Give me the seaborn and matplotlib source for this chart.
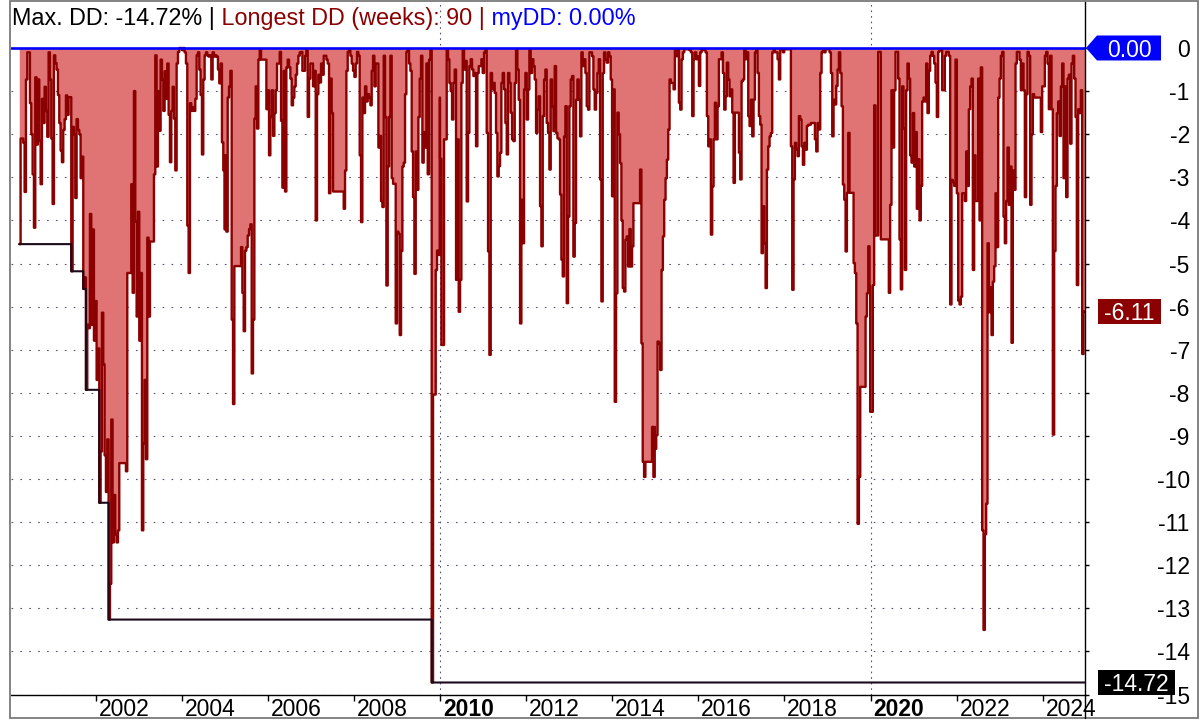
import numpy as np
import pandas as pd
import matplotlib
matplotlib.use("Agg")
import matplotlib.pyplot as plt
import matplotlib.transforms as mtransforms
from matplotlib.patches import Polygon, Rectangle
from matplotlib.lines import Line2D
import seaborn as sns

# ---------------- data (drawdown %) ----------------
SAMPLE_YR = 4 / 129.15          # spacing between readings (about 11 days)
block_starts = [2000.227, 2005.006, 2010.0, 2014.99, 2019.99]

dd_2000 = [
    -4.55, -2.1, -2.1, -2.2, -3.34, -0.73, -0.1, -0.1, -1.28, -2.0,
    -2.93, -4.17, -0.68, -2.24, -0.73, -2.15, -3.16, -1.18, -1.74, -0.9,
    -1.46, -2.06, -0.1, -0.73, -2.1, -3.62, -0.17, -0.35, -0.5, -1.09,
    -1.74, -2.38, -2.65, -1.9, -1.65, -1.1, -1.55, -1.14, -1.14, -5.18,
    -1.83, -2.0, -3.48, -1.65, -1.9, -2.0, -3.02, -2.52, -5.59, -5.32,
    -7.93, -6.42, -6.5, -3.85, -6.42, -4.21, -6.79, -5.87, -7.7, -6.97,
    -10.55, -9.36, -6.14, -7.34, -9.45, -10.3, -9.08, -13.26, -12.43, -8.62,
    -11.47, -10.37, -11.29, -11.47, -11.19, -9.63, -9.63, -9.63, -9.63, -9.63,
    -9.82, -5.22, -5.22, -5.22, -3.16, -5.68, -1.0, -4.03, -6.23, -3.8,
    -6.79, -5.22, -11.19, -9.17, -7.7, -9.54, -4.4, -6.23, -4.49, -4.49,
    -4.49, -2.93, -0.17, -2.75, -1.0, -1.92, -0.27, -0.73, -1.46, -0.54,
    -1.18, -0.36, -1.55, -2.65, -1.46, -0.9, -1.64, -2.84, -0.36, -0.09,
    0.0, 0.0, -0.05, 0.0, -0.1, -0.36, -4.12, -5.22, -1.28, -1.46,
    -1.37, -1.46, -1.18, -0.17, -0.1, -0.5, -1.09, -2.47, -0.73, -0.17,
    -0.1, -0.17, -0.2, -0.17, -0.73, -0.1, -0.2, -0.17, -0.2, -0.5,
    -0.82, -0.36, -2.19, -2.84, -4.21,
]
dd_2005 = [
    -2.49, -4.26, -1.15, -0.89, -0.53, -6.3, -8.26, -5.06, -5.06, -5.06,
    -5.06, -5.06, -4.62, -5.68, -6.57, -4.7, -4.62, -4.35, -4.2, -4.09,
    -7.55, -6.3, -1.64, -0.89, -1.87, -0.27, -0.05, -0.27, -0.27, -0.27,
    -0.27, -1.42, -0.98, -2.49, -1.6, -0.98, -2.04, -1.51, -0.98, -0.36,
    -0.36, -0.09, -1.69, -3.24, -0.53, -3.33, -0.45, -0.27, -0.45, -0.71,
    -1.33, -1.15, -0.89, -0.62, -0.36, -0.18, -0.1, -0.09, -0.53, -0.53,
    -0.18, -0.05, -1.6, -0.71, -0.36, -0.36, -0.89, -0.53, -4.0, -1.07,
    -0.62, -0.8, -0.36, -0.62, -0.18, -0.18, -0.27, -0.36, -3.37, -0.71,
    -1.51, -3.33, -3.33, -3.33, -3.33, -3.33, -3.33, -3.33, -3.33, -3.73,
    -2.84, -0.53, -0.09, -0.05, -0.18, -0.36, -0.53, -0.67, -0.36, -0.09,
    -0.18, -2.49, -4.04, -1.15, -1.51, -0.89, -1.24, -1.07, -1.15, -1.33,
    -0.53, -0.18, -0.89, -0.36, -0.36, -2.31, -2.04, -3.55, -3.69, -0.18,
    -1.6, -5.51, -2.75, -1.6, -0.18, -3.02, -3.15, -3.15, -6.39, -4.26,
    -4.31, -6.66, -4.71, -2.75, -2.66, -1.07, -0.09, -0.05, -0.36, -0.53,
    -2.4, -3.46, -5.24, -2.4, -3.29, -1.6, -0.71, -0.18, -2.66, -1.95,
    -2.31, -0.36, -2.93, -0.27, -0.05, -14.72, -8.04, -8.04, -5.15, -4.7,
    -4.8, -1.15,
]
dd_2010 = [
    -2.57, -6.89, -6.89, -2.12, -2.12, -0.03, -0.26, -0.81, -1.0, -1.66,
    -0.81, -0.5, -5.38, -2.12, -6.12, -5.38, -0.81, -0.03, -0.5, -0.3,
    -3.56, -1.97, -0.42, -0.26, -0.5, -0.65, -0.58, -2.28, -0.58, -0.42,
    -0.42, -0.26, -0.58, -0.1, -0.03, -1.97, -4.72, -7.12, -0.58, -0.96,
    -0.81, -1.04, -1.97, -2.98, -2.74, -2.43, -0.81, -0.58, -0.96, -1.74,
    -2.47, -0.58, -0.81, -1.5, -2.12, -2.16, -0.81, -0.03, -0.5, -1.2,
    -6.39, -3.52, -4.53, -0.96, -0.58, -1.66, -0.96, -0.03, -0.58, -0.26,
    -0.42, -0.73, -1.97, -1.43, -1.12, -3.67, -4.6, -1.58, -0.73, -0.5,
    -1.74, -1.97, -2.82, -0.73, -1.35, -1.93, -0.42, -1.97, -2.09, -2.12,
    -3.4, -4.91, -5.3, -2.05, -1.35, -5.92, -3.91, -1.35, -0.73, -0.65,
    -4.84, -4.06, -1.2, -0.73, -1.2, -2.05, -0.1, -0.42, -0.26, -0.58,
    -1.35, -1.43, -0.1, -0.1, -0.19, -0.96, -1.43, -1.04, -0.58, -0.26,
    -3.05, -5.88, -0.58, -0.1, -0.26, -0.34, -0.1, -0.19, -0.73, -3.44,
    -0.96, -8.21, -5.69, -1.5, -2.0, -2.67, -4.0, -5.57, -5.65, -4.45,
    -4.37, -5.07, -4.2, -5.07, -4.6, -3.6, -3.6, -3.6, -3.6, -3.6,
    -2.82, -6.85, -9.6, -9.95, -9.6, -9.6, -9.6, -9.6, -9.6, -8.79,
    -9.95, -8.79,
]
dd_2015 = [
    -9.3, -8.98, -6.81, -6.85, -7.47, -5.15, -4.37, -3.52, -3.02, -2.59,
    -1.89, -0.73, -0.81, -0.81, -0.96, -0.03, -0.19, -0.03, -1.27, -1.43,
    -0.26, -0.1, -0.03, -0.03, -0.03, -0.03, -0.05, -0.1, -1.58, -0.26,
    -0.1, -0.26, -0.19, -0.88, -0.1, -0.03, -0.05, -0.05, -0.1, -1.58,
    -2.28, -2.12, -4.33, -3.21, -2.12, -1.27, -2.12, -1.35, -0.26, -0.26,
    -0.1, -0.58, -1.43, -1.12, -0.34, -0.73, -1.12, -0.96, -1.5, -3.13,
    -1.5, -1.5, -1.5, -2.43, -3.05, -0.77, -0.73, -0.03, -0.26, -0.1,
    -1.58, -1.81, -1.2, -2.05, -1.2, -0.1, -0.03, -0.58, -1.58, -1.78,
    -4.76, -3.67, -4.53, -5.57, -2.82, -2.28, -2.05, -1.97, -0.1, -0.03,
    -0.1, -0.1, -0.26, -0.73, -0.03, -0.03, -0.1, -0.03, -0.03, -0.03,
    -0.03, -0.03, -2.28, -5.61, -3.05, -2.2, -2.36, -2.51, -1.58, -1.66,
    -2.28, -2.71, -2.2, -2.36, -1.81, -1.78, -1.78, -1.74, -1.74, -1.74,
    -2.12, -2.4, -1.74, -1.89, -0.58, -0.1, -0.03, -0.1, -0.03, -0.03,
    -0.03, -0.1, -0.58, -2.05, -1.2, -1.31, -0.88, -0.5, -0.1, -0.58,
    -1.35, -3.17, -3.52, -4.72, -3.36, -1.97, -3.36, -3.36, -3.36, -4.99,
    -5.22, -6.39, -11.04, -9.95, -7.86, -7.86, -7.86, -7.86, -6.23, -5.69,
    -4.6, -5.53,
]
dd_2020 = [
    -8.44, -8.44, -5.5, -1.33, -4.35, -4.35, -0.09, -0.09, -4.44, -4.44,
    -4.44, -4.44, -4.44, -4.44, -5.68, -3.64, -0.98, -2.31, -0.98, -0.09,
    -0.09, -0.71, -4.44, -5.6, -0.89, -1.87, -5.15, -0.98, -0.36, -0.71,
    -2.49, -2.66, -1.51, -2.75, -1.95, -3.73, -2.58, -4.0, -3.2, -1.24,
    -1.15, -1.24, -0.36, -1.51, -0.53, -0.18, -0.09, -0.18, -0.36, -0.8,
    -1.6, -0.09, -0.05, -0.05, -0.98, -0.98, -0.18, -0.09, -0.09, -0.18,
    -5.95, -3.06, -3.11, -3.2, -0.27, -3.37, -5.86, -5.95, -5.77, -3.37,
    -3.37, -3.55, -2.4, -3.2, -1.42, -0.89, -0.71, -5.15, -2.49, -3.55,
    -3.55, -0.71, -4.0, -0.45, -11.19, -13.5, -11.28, -10.57, -4.53, -6.13,
    -5.55, -6.66, -5.42, -5.06, -3.37, -4.62, -1.15, -0.71, -0.18, -0.09,
    -3.91, -4.53, -3.55, -2.31, -3.64, -2.75, -6.84, -2.84, -3.29, -0.36,
    -0.09, -0.09, -0.27, -0.98, -0.36, -0.98, -3.46, -1.07, -0.09, -0.18,
    -3.64, -2.0, -1.07, -1.15, -1.15, -1.15, -1.15, -1.15, -1.95, -0.89,
    -0.89, -0.18, -0.09, -0.36, -1.42, -0.18, -1.42, -8.97, -4.71, -3.2,
    -1.51, -1.24, -2.04, -0.89, -0.36, -3.02, -0.89, -3.46, -0.71, -0.62,
    -2.22, -0.36, -0.18, -0.71, -1.6, -5.5, -1.42, -1.51, -0.98, -7.1,
    -6.11,
]

year_ticks = list(range(2002, 2025, 2))
bold_years = [2010, 2020]
grid_years = [2010, 2020]
y_ticks = list(range(0, -16, -1))
max_dd_pct = -14.72
longest_dd_weeks = 90
my_dd_pct = 0.00

# ---------------- assemble series ----------------
blocks = [dd_2000, dd_2005, dd_2010, dd_2015, dd_2020]
t = np.concatenate([s + np.arange(len(b)) * SAMPLE_YR for s, b in zip(block_starts, blocks)])
dd = np.concatenate([np.asarray(b, float) for b in blocks])
t_ext = np.append(t, t[-1] + SAMPLE_YR)
dd_ext = np.append(dd, dd[-1])
df = pd.DataFrame({"t": t_ext, "dd": dd_ext})
df["maxdd"] = df["dd"].cummin()
last_dd = dd[-1]

# ---------------- figure ----------------
sns.set_theme(style="white")
plt.rcParams["font.family"] = ["Liberation Sans", "DejaVu Sans"]
W, H = 1200, 725
fig = plt.figure(figsize=(W / 100, H / 100), dpi=100)
AX_L, AX_R, AX_T, AX_B = 11, 1085, 1, 695
ax = fig.add_axes([AX_L / W, 1 - AX_B / H, (AX_R - AX_L) / W, (AX_B - AX_T) / H])
ax.set_xlim(2000.035, 2024.98)
ax.set_ylim(-15.01, 1.09)

FILL = "#E07373"
DARK = "#8B0000"
BLUE = "#0000FF"
GRID = "#5f4f6f"
FS = 16.5

# dotted grid
for yv in y_ticks[1:]:
    ax.axhline(yv, color=GRID, lw=0.8, ls=(0, (1.5, 6.5)), zorder=0)
for xv in grid_years:
    ax.axvline(xv, color=GRID, lw=0.8, ls=(0, (1.5, 3.5)), zorder=0)

# drawdown area + line
ax.fill_between(df["t"], df["dd"], 0, step="post", color=FILL, lw=0, zorder=1)
sns.lineplot(data=df, x="t", y="dd", ax=ax, color=DARK, lw=1.7,
             drawstyle="steps-post", estimator=None, sort=False, legend=False, zorder=2)
sns.lineplot(data=df, x="t", y="maxdd", ax=ax, color="#1a0a1a", lw=1.5,
             drawstyle="steps-post", estimator=None, sort=False, legend=False, zorder=3)
ax.axhline(my_dd_pct, color=BLUE, lw=1.9, zorder=4)

ax.set_xlabel("")
ax.set_ylabel("")

# x ticks
ax.set_xticks(year_ticks)
ax.set_xticklabels([str(y) for y in year_ticks], ha="left")
ax.tick_params(axis="x", direction="out", length=4, width=1, color="black",
               pad=-1.5, labelsize=FS, labelcolor="black", bottom=True)
offs = mtransforms.ScaledTranslation(2.0 / 72, 0, fig.dpi_scale_trans)
for lbl, yr in zip(ax.get_xticklabels(), year_ticks):
    lbl.set_transform(lbl.get_transform() + offs)
    if yr in bold_years:
        lbl.set_fontweight("bold")

# y ticks on right
ax.yaxis.tick_right()
ax.set_yticks(y_ticks)
ax.set_yticklabels([str(v) for v in y_ticks], ha="right")
ax.tick_params(axis="y", direction="out", length=3, width=1, color="black",
               pad=72.5, labelsize=FS, labelcolor="black", right=True, left=False)

for s in ["top", "left"]:
    ax.spines[s].set_visible(False)
for s in ["bottom", "right"]:
    ax.spines[s].set_color("black")
    ax.spines[s].set_linewidth(1.0)

# value markers on the right
bt = mtransforms.blended_transform_factory(ax.transAxes, ax.transData)
def axx(px):
    return (px - AX_L) / (AX_R - AX_L)
half = 12.5 / 43.1

poly = Polygon([(axx(1086), my_dd_pct), (axx(1097), my_dd_pct + half), (axx(1161), my_dd_pct + half),
                (axx(1161), my_dd_pct - half), (axx(1097), my_dd_pct - half)],
               closed=True, transform=bt, fc=BLUE, ec="none", clip_on=False, zorder=10)
ax.add_patch(poly)
ax.text(axx(1129), my_dd_pct, f"{my_dd_pct:.2f}", transform=bt, ha="center", va="center_baseline",
        color="white", fontsize=FS, clip_on=False, zorder=11)

for val, x1, col in [(last_dd, 1161, DARK), (max_dd_pct, 1175, "black")]:
    ax.add_patch(Rectangle((axx(1098), val - half), axx(x1) - axx(1098), 2 * half, transform=bt,
                           fc=col, ec="none", clip_on=False, zorder=10))
    ax.text((axx(1098) + axx(x1)) / 2, val, f"{val:.2f}", transform=bt, ha="center",
            va="center_baseline", color="white", fontsize=FS, clip_on=False, zorder=11)

# header text in three colours
renderer = fig.canvas.get_renderer()
parts = [(f"Max. DD: {max_dd_pct:.2f}% |", "black"),
         (f" Longest DD (weeks): {longest_dd_weeks} |", DARK),
         (f" myDD: {my_dd_pct:.2f}%", BLUE)]
xpix = 12
for txt, col in parts:
    tt = fig.text(xpix / W, 1 - 25 / H, txt, color=col, fontsize=16.8, ha="left", va="baseline")
    bb = tt.get_window_extent(renderer)
    xpix = bb.x1

# outer frame and right-spine extension
fig.add_artist(Rectangle((10 / W, 1 - 718 / H), (1198 - 10) / W, (718 - 1) / H, transform=fig.transFigure,
                         fill=False, ec="#7a7a7a", lw=1.3))
fig.add_artist(Line2D([AX_R / W, AX_R / W], [1 - 718 / H, 1 - AX_B / H], transform=fig.transFigure,
                      color="black", lw=1.0))

fig.savefig("out.png", dpi=100)
